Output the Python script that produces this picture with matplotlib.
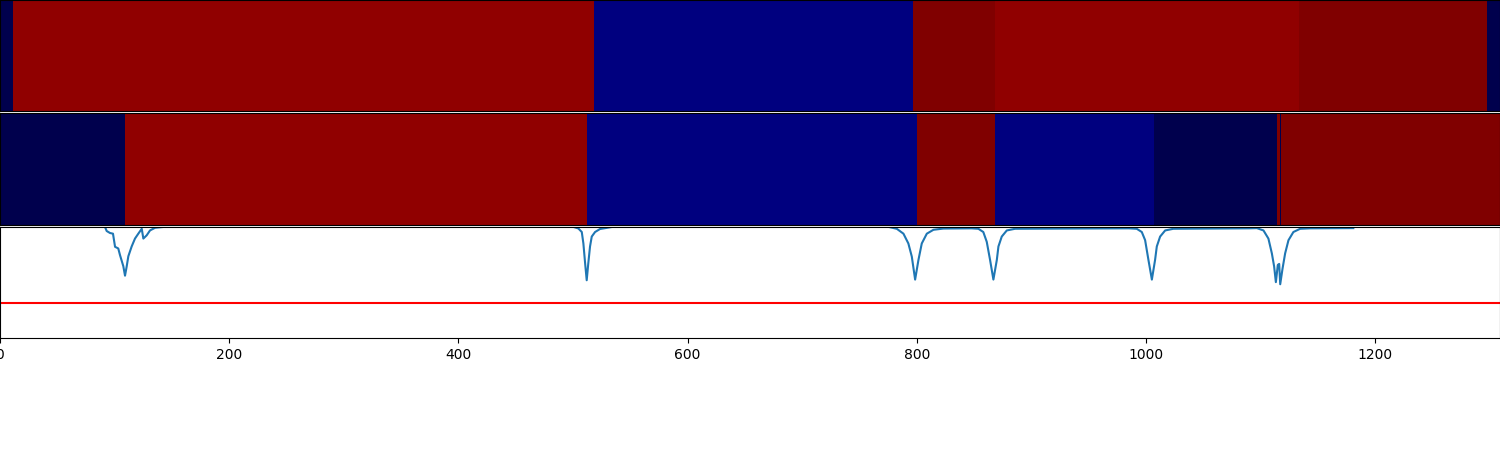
import numpy as np
import matplotlib
matplotlib.use("Agg")
import matplotlib.pyplot as plt

# ---- data -------------------------------------------------------------
x_max = 1309

# top heatmap row: segment edges and values (seismic colormap, 0..1)
row1_edges = [0, 11.3, 518.4, 796.8, 868.4, 1133.7, 1297.8, 1309]
row1_values = [0.0, 0.965, 0.073, 1.0, 0.965, 1.0, 0.0]

# second heatmap row
row2_edges = [0, 109.1, 512.3, 800.3, 868.4, 1007.2, 1114.5, 1117.1, 1117.8, 1309]
row2_values = [0.0, 0.965, 0.073, 1.0, 0.073, 0.0, 1.0, 0.0, 1.0]

# line series
line_x = [91.6, 93.1, 96.0, 98.6, 100.4, 103.2, 104.7, 107.6, 109.1, 110.6, 112.0,
          114.9, 117.8, 120.7, 123.7, 125.1, 128.0, 130.9, 135.3, 144.0,
          500.0, 504.7, 507.7, 509.1, 510.6, 512.0, 513.4, 514.9, 516.4, 519.3, 523.6, 535.0,
          775.0, 782.6, 788.4, 792.7, 795.7, 798.6, 801.5, 804.4, 808.8, 814.6, 823.3,
          848.0, 853.8, 858.1, 861.1, 864.0, 866.9, 869.9, 871.3, 874.2, 878.6, 885.8,
          985.0, 992.0, 996.4, 999.3, 1002.2, 1005.2, 1008.0, 1009.5, 1012.4, 1016.8, 1024.0,
          1090.0, 1096.8, 1102.6, 1106.9, 1109.9, 1111.9, 1113.4, 1115.1, 1116.3, 1117.2,
          1119.2, 1121.5, 1124.4, 1128.7, 1134.6, 1143.3, 1181.0]
line_y = [0.999, 0.962, 0.944, 0.938, 0.820, 0.805, 0.746, 0.646, 0.560, 0.646, 0.735,
          0.823, 0.894, 0.938, 0.982, 0.894, 0.923, 0.967, 0.991, 1.0,
          1.0, 0.985, 0.953, 0.850, 0.673, 0.519, 0.673, 0.823, 0.912, 0.953, 0.980, 1.0,
          1.0, 0.982, 0.938, 0.850, 0.732, 0.525, 0.702, 0.850, 0.938, 0.973, 0.984,
          0.986, 0.982, 0.953, 0.865, 0.702, 0.525, 0.702, 0.823, 0.912, 0.967, 0.982,
          0.986, 0.982, 0.953, 0.880, 0.702, 0.525, 0.702, 0.823, 0.912, 0.967, 0.982,
          0.986, 0.988, 0.967, 0.894, 0.761, 0.643, 0.502, 0.657, 0.666, 0.483,
          0.622, 0.761, 0.879, 0.953, 0.982, 0.986, 0.988]

threshold = 0.31
xticks = [0, 200, 400, 600, 800, 1000, 1200]

# ---- figure -----------------------------------------------------------
fig, axes = plt.subplots(3, 1, figsize=(15, 4.5), dpi=100, sharex=True)
fig.subplots_adjust(left=0, right=1, top=1, bottom=0.249, hspace=0.02)

for ax, edges, vals in [(axes[0], row1_edges, row1_values),
                        (axes[1], row2_edges, row2_values)]:
    ax.pcolormesh(edges, [0, 1], np.array(vals)[None, :], cmap="seismic",
                  vmin=0, vmax=1, shading="flat")
    ax.set_ylim(0, 1)
    ax.tick_params(bottom=False, labelbottom=False, left=False, labelleft=False)

ax = axes[2]
ax.plot(line_x, line_y, color="tab:blue", lw=1.5)
ax.axhline(threshold, color="red", lw=1.5)
ax.set_ylim(0, 1)
ax.set_xlim(0, x_max)
ax.set_xticks(xticks)
ax.tick_params(left=False, labelleft=False)

fig.savefig("out.png", dpi=100)
